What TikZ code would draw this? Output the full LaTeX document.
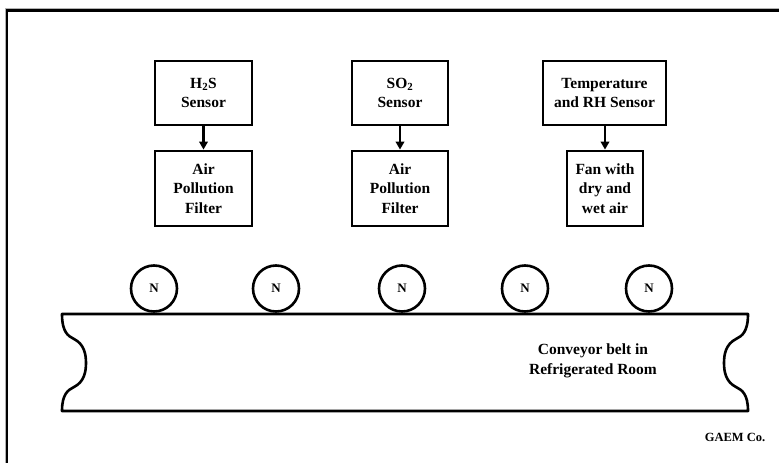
\documentclass[tikz,border=0pt]{standalone}
\usepackage{fontspec}
\setmainfont{Liberation Serif}
\usetikzlibrary{arrows.meta}
\tikzset{
  sbox/.style={draw, line width=2.8pt, inner sep=0pt, align=center,
    font=\bfseries\fontsize{15.5}{19.5}\selectfont},
  roller/.style={draw, circle, line width=2.6pt, minimum size=46pt, inner sep=0pt,
    font=\bfseries\fontsize{13}{15}\selectfont},
  arr/.style={line width=2.6pt, -{Triangle[length=8pt,width=8.5pt]}},
  lbl/.style={align=center, inner sep=0pt, font=\bfseries\fontsize{15.5}{20}\selectfont}
}
\begin{document}
\begin{tikzpicture}[x=1pt,y=-1pt]
\useasboundingbox (0,0) rectangle (779,463);
\clip (0,0) rectangle (779,463);
% outer frame
\draw[line width=1pt, gray!60] (5,480) -- (5,8) -- (800,8);
\draw[line width=2.6pt] (7,480) -- (7,10.5) -- (800,10.5);
% sensor boxes
\node[sbox, minimum width=97pt, minimum height=64pt] (h2s) at (203.5,93) {H\textsubscript{2}S\\Sensor};
\node[sbox, minimum width=97pt, minimum height=75pt] (f1) at (203.5,188.5) {Air\\Pollution\\Filter};
\node[sbox, minimum width=96pt, minimum height=64pt] (so2) at (400,93) {SO\textsubscript{2}\\Sensor};
\node[sbox, minimum width=96pt, minimum height=75pt] (f2) at (400,188.5) {Air\\Pollution\\Filter};
\node[sbox, minimum width=123pt, minimum height=64pt] (trh) at (604.5,93) {Temperature\\and RH Sensor};
\node[sbox, minimum width=76pt, minimum height=75pt] (fan) at (605,188.5) {Fan with\\dry and\\wet air};
\draw[arr] (h2s) -- (f1);
\draw[arr] (so2) -- (f2);
\draw[arr] (trh.south -| fan.north) -- (fan);
% rollers
\node[roller] (n1) at (154,288.5) {N};
\node[roller] (n2) at (276,288.5) {N};
\node[roller] (n3) at (402,288.5) {N};
\node[roller] (n4) at (525,288.5) {N};
\node[roller] (n5) at (649,288.5) {N};
% conveyor
\draw[line width=2.6pt, line join=round]
  (62,314) -- (748,314)
  .. controls (748,332) and (742,336) .. (736,339)
  .. controls (726,344) and (724,354) .. (724,363)
  .. controls (724,372) and (726,382) .. (736,387)
  .. controls (742,390) and (748,394) .. (748,411)
  -- (62,411)
  .. controls (62,394) and (68,390) .. (74,387)
  .. controls (84,382) and (86,372) .. (86,363)
  .. controls (86,354) and (84,344) .. (74,339)
  .. controls (68,336) and (62,332) .. cycle;
\node[lbl] (belt) at (593,361) {Conveyor belt in\\Refrigerated Room};
\node[inner sep=0pt, font=\bfseries\fontsize{12.5}{14}\selectfont] (gaem) at (735,437) {GAEM Co.};
\end{tikzpicture}
\end{document}
